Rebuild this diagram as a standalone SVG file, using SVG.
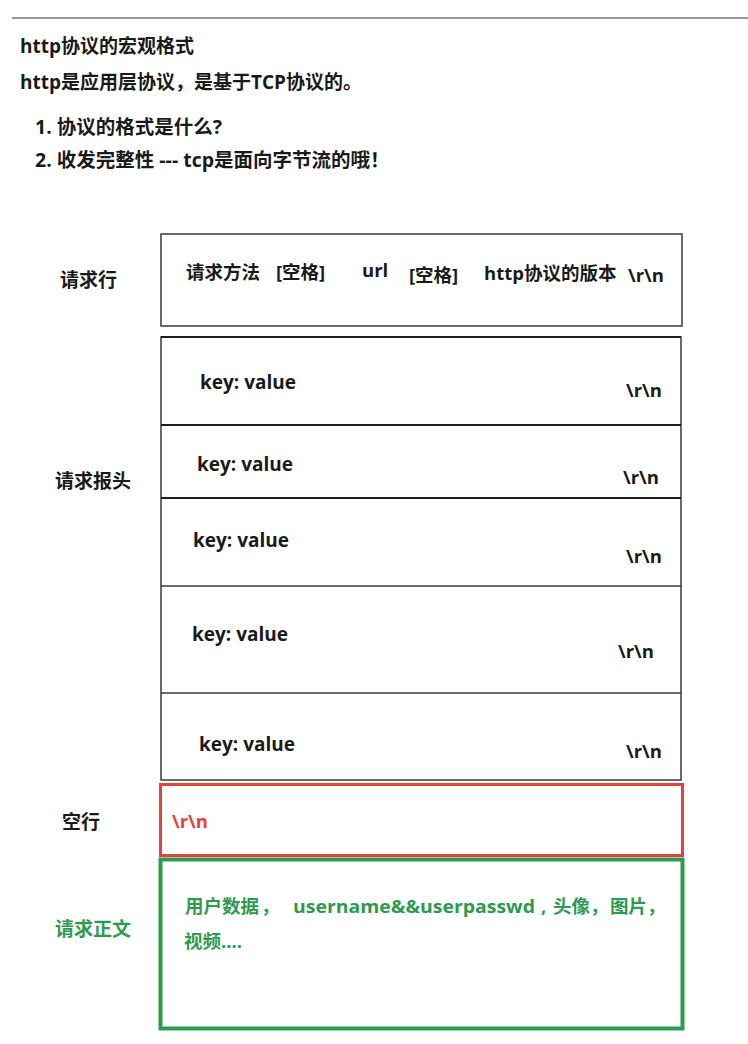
<svg xmlns="http://www.w3.org/2000/svg" width="748" height="1044" viewBox="0 0 748 1044">
<style>
text{font-family:"Open Sans","Noto Sans CJK SC",sans-serif;font-weight:700;fill:#1a1a1a}
.t{font-size:18.5px}
.h{font-size:19px}
.it{font-size:19.5px}
.lbl{font-size:19px}
.kv{font-size:19px}
.rn{font-size:18.5px}
.box{fill:#fff;stroke:#3a3a3a;stroke-width:1.5}
.div{stroke:#3a3a3a;stroke-width:1.5}
.dark{stroke:#1e1e1e;stroke-width:2}
.red{fill:#e0443c}
.green{fill:#2e9a4e}
</style>
<rect width="748" height="1044" fill="#fff"/>
<line x1="12" y1="18" x2="748" y2="18" stroke="#9a9a9a" stroke-width="2"/>
<g id="intro">
<text class="h" x="20" y="53">http协议的宏观格式</text>
<text class="h" x="20" y="89">http是应用层协议，是基于TCP协议的。</text>
<text class="it" x="35" y="134">1. 协议的格式是什么?</text>
<text class="it" x="35" y="167">2. 收发完整性 --- tcp是面向字节流的哦！</text>
</g>
<g id="request-line">
<text class="lbl" x="60" y="287">请求行</text>
<rect class="box" x="161" y="234" width="521" height="92"/>
<text class="t" x="186" y="279">请求方法</text>
<text class="t" x="276" y="279">[空格]</text>
<text class="t" x="362" y="277">url</text>
<text class="t" x="409" y="282">[空格]</text>
<text class="t" x="484" y="280">http协议的版本</text>
<text class="rn" x="628" y="282">\r\n</text>
</g>
<g id="request-headers">
<text class="lbl" x="55" y="488">请求报头</text>
<rect class="box" x="161" y="337" width="520" height="443"/>
<line class="dark" x1="161" y1="337" x2="681" y2="337"/>
<line class="dark" x1="161" y1="425" x2="681" y2="425"/>
<line class="dark" x1="161" y1="498" x2="681" y2="498"/>
<line class="div" x1="161" y1="586" x2="681" y2="586"/>
<line class="div" x1="161" y1="693" x2="681" y2="693"/>
<text class="kv" x="200" y="389">key: value</text>
<text class="rn" x="626" y="397">\r\n</text>
<text class="kv" x="197" y="471">key: value</text>
<text class="rn" x="623" y="484">\r\n</text>
<text class="kv" x="193" y="547">key: value</text>
<text class="rn" x="626" y="563">\r\n</text>
<text class="kv" x="192" y="641">key: value</text>
<text class="rn" x="618" y="658">\r\n</text>
<text class="kv" x="199" y="751">key: value</text>
<text class="rn" x="626" y="758">\r\n</text>
</g>
<g id="blank-line">
<text class="lbl" x="62" y="829">空行</text>
<rect x="160.5" y="784.5" width="522" height="71" fill="none" stroke="#e0443c" stroke-width="3"/>
<text class="rn red" x="172" y="828">\r\n</text>
</g>
<g id="request-body">
<text class="lbl green" x="55" y="936">请求正文</text>
<rect x="160.5" y="859.5" width="522" height="169" fill="none" stroke="#2e9a4e" stroke-width="4"/>
<text class="t green" y="913"><tspan x="185">用户数据</tspan><tspan x="261">，</tspan><tspan x="293" textLength="242" lengthAdjust="spacingAndGlyphs">username&amp;&amp;userpasswd</tspan><tspan x="541">,</tspan><tspan x="553">头像，</tspan><tspan x="610">图片，</tspan></text>
<text class="t green" x="184" y="948">视频....</text>
</g>
</svg>
